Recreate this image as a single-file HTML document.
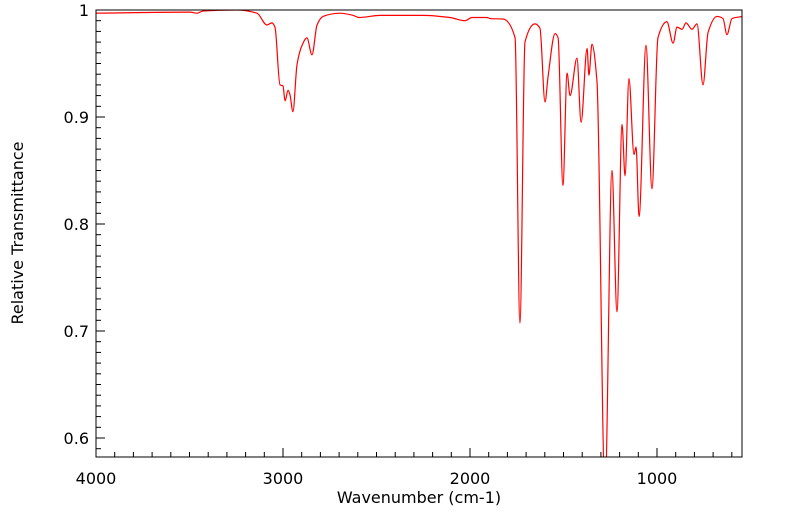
<!DOCTYPE html>
<html><head><meta charset="utf-8"><style>
html,body{margin:0;padding:0;background:#fff;}
svg{display:block;font-family:"DejaVu Sans","Liberation Sans",sans-serif;}
</style></head><body>
<svg id="chart" width="799" height="516">
<defs><clipPath id="clip"><rect x="96" y="10" width="646" height="447"/></clipPath></defs>
<g id="ticks"></g>
<path id="line" clip-path="url(#clip)" fill="none" stroke="#ff0000" stroke-width="1.2"/>
<rect x="96" y="10" width="646" height="447" fill="none" stroke="#000" stroke-width="1"/>
<text x="419" y="503" text-anchor="middle" font-size="16">Wavenumber (cm-1)</text>
<text x="23" y="233" text-anchor="middle" font-size="16" transform="rotate(-90 23 233)">Relative Transmittance</text>
</svg>
<script>
const wavenumbers=[4005,3497,3460,3428,3246,3139,3086,3059,3043,3016,3000,2989,2973,2963,2947,2925,2898,2872,2845,2818,2786,2695,2626,2594,2481,2251,2107,2027,1989,1909,1893,1824,1759,1733,1706,1652,1626,1599,1583,1545,1529,1503,1481,1465,1428,1406,1374,1364,1348,1321,1278,1241,1214,1187,1171,1150,1123,1112,1096,1059,1027,995,947,914,893,866,845,813,786,754,727,679,647,626,599,540];
const transmittance=[0.997,0.998,0.997,0.999,1.0,0.997,0.986,0.988,0.984,0.930,0.929,0.915,0.925,0.921,0.905,0.949,0.967,0.974,0.958,0.986,0.994,0.997,0.995,0.993,0.995,0.995,0.993,0.990,0.993,0.993,0.992,0.9916,0.974,0.7075,0.970,0.987,0.983,0.914,0.937,0.978,0.974,0.836,0.941,0.920,0.955,0.895,0.964,0.939,0.968,0.933,0.55,0.850,0.718,0.893,0.845,0.936,0.865,0.872,0.807,0.967,0.833,0.974,0.989,0.969,0.984,0.982,0.988,0.982,0.987,0.930,0.979,0.994,0.992,0.977,0.992,0.994];
const xTicks=[4000,3000,2000,1000];
const yTicks=[0.6,0.7,0.8,0.9,1];
const yTickLabels=["0.6","0.7","0.8","0.9","1"];
const X0=96,X1=742,Y0=10,Y1=457;
const xMax=4000,xMin=545.5,yMax=1.0,yMin=0.58225;
function sx(w){return X0+(xMax-w)/(xMax-xMin)*(X1-X0);}
function sy(t){return Y0+(yMax-t)/(yMax-yMin)*(Y1-Y0);}
const NS="http://www.w3.org/2000/svg";
const pts=wavenumbers.map((w,i)=>[sx(w),sy(transmittance[i])]);
// monotone cubic (Fritsch-Carlson)
const n=pts.length,dx=[],m=[],tg=[];
for(let i=0;i<n-1;i++){dx[i]=pts[i+1][0]-pts[i][0];m[i]=(pts[i+1][1]-pts[i][1])/dx[i];}
tg[0]=m[0];tg[n-1]=m[n-2];
for(let i=1;i<n-1;i++){tg[i]=(m[i-1]*m[i]<=0)?0:(3*(dx[i-1]+dx[i]))/((2*dx[i]+dx[i-1])/m[i-1]+(dx[i]+2*dx[i-1])/m[i]);}
let d="M"+pts[0][0].toFixed(2)+","+pts[0][1].toFixed(2);
for(let i=0;i<n-1;i++){
 const h=dx[i]/3,p1=pts[i],p2=pts[i+1];
 d+=" C"+(p1[0]+h).toFixed(2)+","+(p1[1]+tg[i]*h).toFixed(2)+" "+(p2[0]-h).toFixed(2)+","+(p2[1]-tg[i+1]*h).toFixed(2)+" "+p2[0].toFixed(2)+","+p2[1].toFixed(2);
}
document.getElementById('line').setAttribute('d',d);
const g=document.getElementById('ticks');
function ln(x1,y1,x2,y2){const l=document.createElementNS(NS,'line');l.setAttribute('x1',x1);l.setAttribute('y1',y1);l.setAttribute('x2',x2);l.setAttribute('y2',y2);l.setAttribute('stroke','#000');g.appendChild(l);return l;}
for(let w=4000;w>=600;w-=100){const x=sx(w);const major=w%1000===0;
 const l=ln(x,Y1,x,Y1-(major?9:5));
 
 }
for(let k=59;k<=100;k++){const t=k/100;const y=sy(t);const major=k%10===0;
 const l=ln(X0,y,X0+(major?9:5),y);
 
 }
xTicks.forEach(w=>{const t=document.createElementNS(NS,'text');t.setAttribute('x',sx(w));t.setAttribute('y',484);t.setAttribute('text-anchor','middle');t.setAttribute('font-size','16');t.textContent=String(w);
 
 
 g.appendChild(t);});
yTicks.forEach((v,i)=>{const t=document.createElementNS(NS,'text');t.setAttribute('x',89);t.setAttribute('y',sy(v)+6);t.setAttribute('text-anchor','end');t.setAttribute('font-size','16');t.textContent=yTickLabels[i];
 
 
 g.appendChild(t);});
</script>
</body></html>
